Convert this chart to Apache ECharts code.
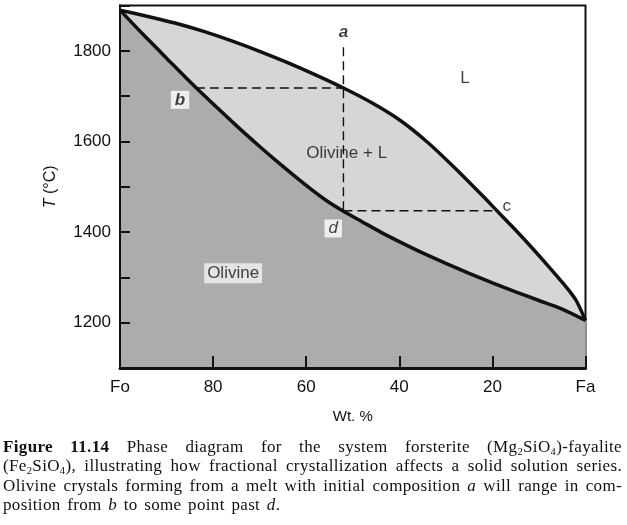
<!DOCTYPE html>
<html>
<head>
<meta charset="utf-8">
<script src="https://cdn.jsdelivr.net/npm/echarts@6/dist/echarts.min.js"></script>
<style>
  html, body { margin: 0; padding: 0; background: #fff; }
  #wrap { position: relative; width: 627px; height: 525px; overflow: hidden; }
  #chart { position: absolute; left: 0; top: 0; width: 627px; height: 525px; }
  #cap { position: absolute; left: 3px; top: 437px; width: 619px;
         font-family: 'Liberation Serif', 'Times New Roman', serif; font-size: 17px;
         line-height: 19.3px; color: #111; letter-spacing: 0.35px; word-spacing: 2px; }
  #cap .j { text-align: justify; text-align-last: justify; }
  #cap sub { font-size: 0.62em; vertical-align: -0.25em; line-height: 0; }
</style>
</head>
<body>
<div id="wrap">
  <div id="chart"></div>
  <div id="cap">
    <div class="j"><b>Figure 11.14</b> Phase diagram for the system forsterite (Mg<sub>2</sub>SiO<sub>4</sub>)-fayalite</div>
    <div class="j">(Fe<sub>2</sub>SiO<sub>4</sub>), illustrating how fractional crystallization affects a solid solution series.</div>
    <div class="j">Olivine crystals forming from a melt with initial composition <i>a</i> will range in com-</div>
    <div>position from <i>b</i> to some point past <i>d</i>.</div>
  </div>
</div>
<script>
// ---- data (wt.% Fo, temperature °C) ----
const liquidusWt = [100, 94, 88, 82, 76, 70, 64, 58, 52, 46, 40, 34, 28, 22, 19.2, 16, 12, 8, 4, 2, 0];
const liquidusT  = [1890, 1876, 1861, 1843, 1822, 1799, 1774, 1747, 1718, 1686, 1648, 1599, 1541, 1479, 1449, 1415, 1371, 1325, 1277, 1249, 1205];
const solidusWt  = [100, 95, 90, 83.7, 75, 70, 65, 60, 56, 52, 48, 44, 40, 35, 30, 25, 20, 15, 10, 5, 0];
const solidusT   = [1890, 1836, 1784, 1719, 1635, 1589, 1545, 1503, 1472, 1446, 1423, 1400, 1379, 1354, 1331, 1309, 1288, 1268, 1249, 1230, 1205];

// dashed construction lines
const tieBWt = [83.7, 52.0];   const tieBT = [1718, 1718];
const isoAWt = [52.0, 52.0];   const isoAT = [1808, 1446];
const tieDWt = [52.0, 19.2];   const tieDT = [1447, 1447];

// annotation texts and positions
const pointNames = ['a', 'b', 'c', 'd'];
const pointWt    = [52.0, 87.1, 16.9, 54.2];
const pointT     = [1840, 1692, 1458, 1408];
const regionNames = ['L', 'Olivine + L', 'Olivine'];
const regionWt    = [25.9, 51.3, 75.7];
const regionT     = [1740, 1574, 1309];

// axes
const xMin = 0, xMax = 100, xStep = 20;
const yMin = 1100, yMax = 1900, yStep = 100;
const yLabelValues = [1200, 1400, 1600, 1800];
const xEndLabels = { 100: 'Fo', 0: 'Fa' };
const xTitle = 'Wt. %';
const yTitle = '{it|T} (°C)';

// ---- build ----
const zip = (a, b) => a.map((v, i) => [v, b[i]]);
const SANS = "'Liberation Sans', Arial, Helvetica, sans-serif";
const INK = '#111';

const pointStyle = {
  a: { fontStyle: 'italic', fontWeight: 'bold' },
  b: { fontStyle: 'italic', fontWeight: 'bold', backgroundColor: '#fff', padding: [1, 4, 0, 4] },
  c: { },
  d: { fontStyle: 'italic', backgroundColor: '#fff', padding: [1, 4, 0, 4] }
};
const regionStyle = {
  'L': {},
  'Olivine + L': {},
  'Olivine': { backgroundColor: '#f2f2f2', padding: [2, 3, 1, 3] }
};

const annotData = pointNames.map((n, i) => ({
  name: n, value: [pointWt[i], pointT[i]],
  label: Object.assign({}, pointStyle[n])
})).concat(regionNames.map((n, i) => ({
  name: n, value: [regionWt[i], regionT[i]],
  label: Object.assign({}, regionStyle[n])
})));

const dashed = (data) => ({
  type: 'line', data: data, symbol: 'none', silent: true, z: 4,
  lineStyle: { color: INK, width: 1.4, type: [9, 5] }
});

const chart = echarts.init(document.getElementById('chart'), null, { renderer: 'canvas' });
chart.setOption({
  animation: false,
  backgroundColor: '#fff',
  grid: { left: 120, right: 41.5, top: 5.6, bottom: 157, show: true,
          borderColor: INK, borderWidth: 2, backgroundColor: '#fff', z: 0 },
  xAxis: {
    type: 'value', min: xMin, max: xMax, interval: xStep, inverse: true, z: 10,
    name: xTitle, nameLocation: 'middle', nameGap: 41,
    nameTextStyle: { fontFamily: SANS, fontSize: 15, color: INK },
    axisLine: { show: true, onZero: false, lineStyle: { color: INK, width: 3 } },
    axisTick: { show: true, inside: true, length: 12, lineStyle: { color: INK, width: 2 } },
    axisLabel: { fontFamily: SANS, fontSize: 17, color: INK, margin: 11,
                 formatter: v => (xEndLabels[v] !== undefined ? xEndLabels[v] : String(v)) },
    splitLine: { show: false }
  },
  yAxis: {
    type: 'value', min: yMin, max: yMax, interval: yStep, z: 10,
    name: yTitle, nameLocation: 'middle', nameGap: 61, nameRotate: 90,
    nameTextStyle: { fontFamily: SANS, fontSize: 16, color: INK,
                     rich: { it: { fontFamily: SANS, fontSize: 16, fontStyle: 'italic', color: INK } } },
    axisLine: { show: true, onZero: false, lineStyle: { color: INK, width: 2 } },
    axisTick: { show: true, inside: true, length: 10, lineStyle: { color: INK, width: 2 } },
    axisLabel: { fontFamily: SANS, fontSize: 17, color: INK, margin: 9,
                 formatter: v => (yLabelValues.indexOf(v) >= 0 ? String(v) : '') },
    splitLine: { show: false }
  },
  series: [
    { name: 'Liquidus', type: 'line', data: zip(liquidusWt, liquidusT), symbol: 'none',
      smooth: 0.25, z: 2,
      lineStyle: { color: INK, width: 3.5 },
      areaStyle: { color: '#d6d6d6', opacity: 1, origin: 'start' } },
    { name: 'Solidus', type: 'line', data: zip(solidusWt, solidusT), symbol: 'none',
      smooth: 0.25, z: 3,
      lineStyle: { color: INK, width: 3.5 },
      areaStyle: { color: '#acacac', opacity: 1, origin: 'start' } },
    dashed(zip(tieBWt, tieBT)),
    dashed(zip(isoAWt, isoAT)),
    dashed(zip(tieDWt, tieDT)),
    { name: 'labels', type: 'scatter', data: annotData, symbolSize: 0, z: 6, silent: true,
      label: { show: true, position: 'inside', formatter: p => p.name,
               fontFamily: SANS, fontSize: 17, color: INK } }
  ]
});
</script>
</body>
</html>
